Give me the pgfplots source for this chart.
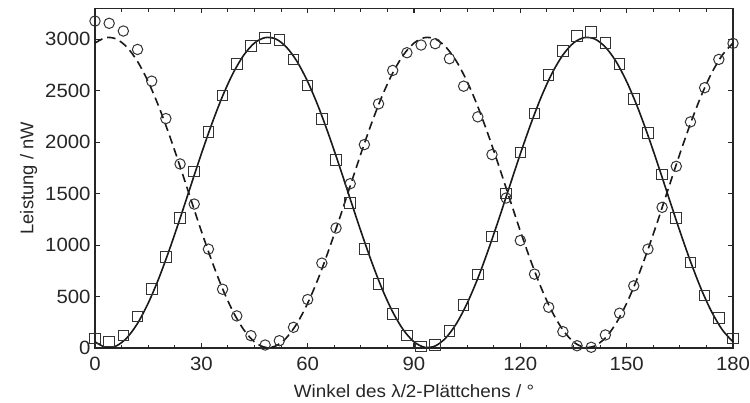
\documentclass[border=0pt]{standalone}
\usepackage{fontspec}
\setmainfont{Liberation Sans}
\newfontfamily\stretchfont{Liberation Sans}[FakeStretch=1.06]
\usepackage{pgfplots}
\usepackage{pgfplotstable}
\pgfplotsset{compat=1.18}

\pgfplotstableread{
x y
0 94
4 62
8 120
12 305
16 571
20 883
24 1263
28 1717
32 2097
36 2454
40 2763
44 2935
48 3016
52 2993
56 2805
60 2552
64 2227
68 1825
72 1409
76 961
80 623
84 328
88 120
92 13
96 29
100 166
104 419
108 714
112 1084
116 1500
120 1899
124 2279
128 2652
132 2886
136 3032
140 3071
144 2967
148 2763
152 2422
156 2091
160 1685
164 1263
168 831
172 510
176 289
180 94
}\squares

\pgfplotstableread{
x y
0 3178
4 3156
8 3081
12 2902
16 2594
20 2230
24 1789
28 1399
32 961
36 571
40 312
44 120
48 29
52 71
56 201
60 471
64 825
68 1166
72 1597
76 1977
80 2373
84 2698
88 2870
92 2945
96 2958
100 2812
104 2545
108 2247
112 1880
116 1458
120 1045
124 718
128 396
132 159
136 22
140 7
144 127
148 338
152 604
156 961
160 1367
164 1766
168 2198
172 2530
176 2805
180 2961
}\circles

\pgfplotstableread{
x s d
0 60 2964
3 7 3017
6 20 3004
9 99 2925
12 239 2785
15 435 2589
18 677 2347
21 957 2067
24 1260 1764
27 1575 1449
30 1887 1137
33 2182 842
36 2449 575
39 2674 350
42 2848 176
45 2965 59
48 3017 7
51 3004 20
54 2925 99
57 2785 239
60 2589 435
63 2347 677
66 2067 957
69 1764 1260
72 1449 1575
75 1137 1887
78 842 2182
81 575 2449
84 350 2674
87 176 2848
90 60 2964
93 7 3017
96 20 3004
99 99 2925
102 239 2785
105 435 2589
108 677 2347
111 957 2067
114 1260 1764
117 1575 1449
120 1887 1137
123 2182 842
126 2449 575
129 2674 350
132 2848 176
135 2965 59
138 3017 7
141 3004 20
144 2925 99
147 2785 239
150 2589 435
153 2347 677
156 2067 957
159 1764 1260
162 1449 1575
165 1137 1887
168 842 2182
171 575 2449
174 350 2674
177 176 2848
180 60 2964
}\fits

\begin{document}
\begin{tikzpicture}
\useasboundingbox (-95bp,-55bp) rectangle (655bp,348bp);
\begin{axis}[
  at={(0,0)}, anchor=south west,
  scale only axis, width=638bp, height=339.5bp,
  xmin=0, xmax=180, ymin=0, ymax=3300,
  xtick={0,30,...,180}, minor x tick num=3,
  ytick={0,500,...,3000},
  tick align=inside,
  major tick length=5bp, minor tick length=3.5bp,
  axis line style={line width=1.3bp, color=black!85},
  every tick/.style={line width=1.1bp, black!85},
  /pgf/number format/assume math mode=true,
  /pgf/number format/1000 sep={},
  tick label style={font=\stretchfont\fontsize{19.2bp}{22bp}\selectfont, text=black!85},
  xticklabel style={inner sep=0pt, anchor=north, yshift=-9bp},
  yticklabel style={inner sep=0pt, anchor=east, xshift=-4.3bp},
  xlabel={Winkel des λ/2-Plättchens / °},
  ylabel={Leistung / nW},
  every axis x label/.style={at={(axis description cs:0.5,-0.1452)}, anchor=base,
    font=\stretchfont\fontsize{17.8bp}{21bp}\selectfont, text=black!85},
  every axis y label/.style={at={(axis description cs:-0.0967,0.5)}, anchor=base, rotate=90,
    font=\fontsize{18.4bp}{21bp}\selectfont, text=black!85},
  clip=false,
]
\addplot[line width=1.6bp, black!90, smooth, no markers] table[x=x, y=s] {\fits};
\addplot[line width=1.6bp, black!90, smooth, no markers, dash pattern=on 8.5bp off 5bp] table[x=x, y=d] {\fits};
\addplot[only marks, mark=square, mark size=5.3bp, mark options={line width=1bp, draw=black!80, fill=none}] table[x=x, y=y] {\squares};
\addplot[only marks, mark=o, mark size=5.2bp, mark options={line width=1bp, draw=black!80, fill=none}] table[x=x, y=y] {\circles};
\end{axis}
\end{tikzpicture}
\end{document}
